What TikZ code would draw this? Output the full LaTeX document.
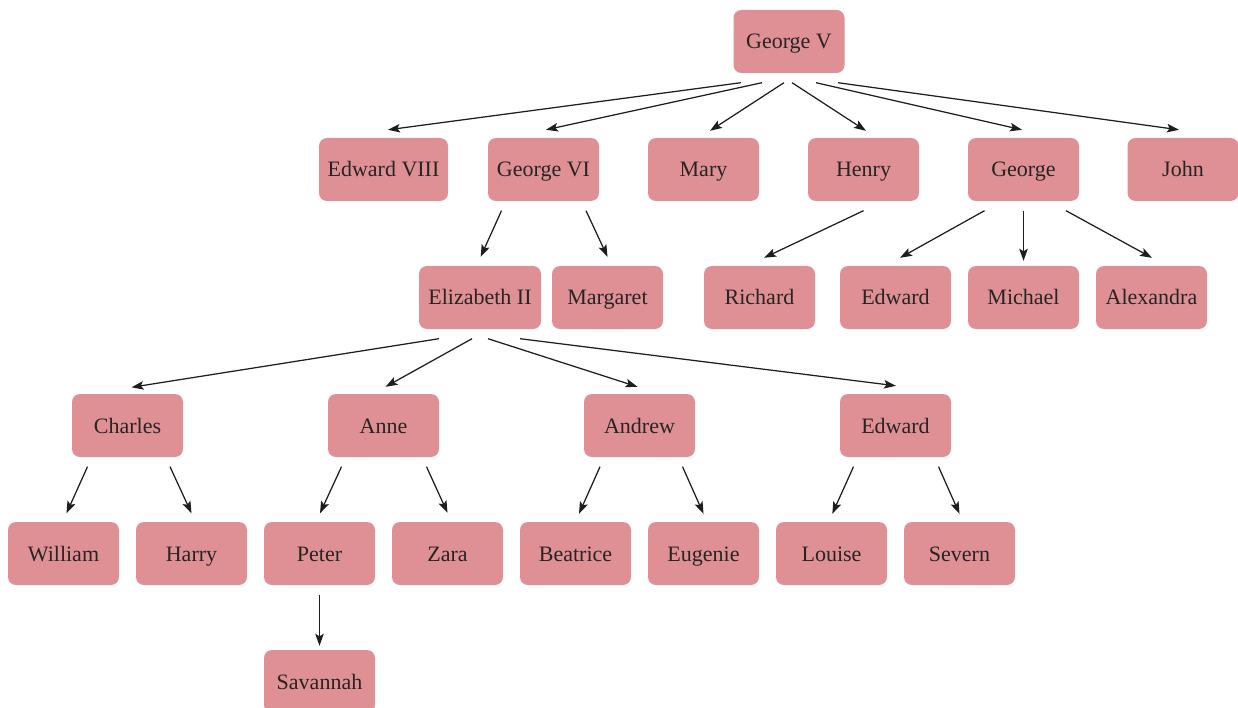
\documentclass[tikz,border=0pt]{standalone}
\usepackage{fontspec}
\setmainfont{Liberation Serif}
\usetikzlibrary{arrows.meta,calc}
\definecolor{boxfill}{RGB}{222,144,149}
\definecolor{txtcol}{RGB}{40,36,36}
\definecolor{edgecol}{RGB}{30,30,30}
\newcommand\famedge[5]{\draw[link] ($(#1.south)+(#2,9.5)$) -- ($(#3.north)+(#4,#5)$);}
\begin{document}
\begin{tikzpicture}[x=1pt,y=-1pt,
  person/.style={rectangle, rounded corners=8pt, fill=boxfill, text=txtcol,
    minimum width=111pt, minimum height=63pt, inner xsep=4pt, inner ysep=0pt,
    text height=18pt, text depth=3pt, font=\fontsize{22}{26}\selectfont},
  link/.style={draw=edgecol, line width=1.25pt, -{Stealth[length=12pt,width=8.5pt,inset=2.5pt]}}]
\useasboundingbox (0,0) rectangle (1238,708);
% row 0
\node[person] (gv) at (789,41.5) {George V};
% row 1
\node[person, minimum width=129pt] (e8) at (383.5,169.5) {Edward VIII};
\node[person] (g6) at (543.5,169.5) {George VI};
\node[person] (mary) at (703.5,169.5) {Mary};
\node[person] (henry) at (863.5,169.5) {Henry};
\node[person] (george) at (1023.5,169.5) {George};
\node[person] (john) at (1183,169.5) {John};
% row 2
\node[person, minimum width=122pt] (eliz) at (480,297.5) {Elizabeth II};
\node[person] (marg) at (607.5,297.5) {Margaret};
\node[person] (rich) at (759.5,297.5) {Richard};
\node[person] (edwa) at (895.5,297.5) {Edward};
\node[person] (mich) at (1023.5,297.5) {Michael};
\node[person] (alex) at (1151.5,297.5) {Alexandra};
% row 3
\node[person] (charles) at (127.5,425.5) {Charles};
\node[person] (anne) at (383.5,425.5) {Anne};
\node[person] (andrew) at (639.5,425.5) {Andrew};
\node[person] (edwb) at (895.5,425.5) {Edward};
% row 4
\node[person] (will) at (63.5,553.5) {William};
\node[person] (harry) at (191.5,553.5) {Harry};
\node[person] (peter) at (319.5,553.5) {Peter};
\node[person] (zara) at (447.5,553.5) {Zara};
\node[person] (beat) at (575.5,553.5) {Beatrice};
\node[person] (eug) at (703.5,553.5) {Eugenie};
\node[person] (louise) at (831.5,553.5) {Louise};
\node[person] (severn) at (959.5,553.5) {Severn};
% row 5
\node[person] (sav) at (319.5,681.5) {Savannah};
% edges
\famedge{gv}{-48}{e8}{4.5}{-8}
\famedge{gv}{-27}{g6}{2.5}{-8}
\famedge{gv}{-5}{mary}{6.5}{-7}
\famedge{gv}{3}{henry}{2.5}{-7}
\famedge{gv}{27}{george}{-1.5}{-8}
\famedge{gv}{49}{john}{-4}{-8}
\famedge{g6}{-42}{eliz}{0.7}{-9}
\famedge{g6}{42.5}{marg}{0}{-9}
\famedge{henry}{0}{rich}{4.5}{-8}
\famedge{george}{-39}{edwa}{4.5}{-8}
\famedge{george}{0}{mich}{0}{-5}
\famedge{george}{42.5}{alex}{0.5}{-8}
\famedge{eliz}{-41}{charles}{4}{-6.5}
\famedge{eliz}{-8}{anne}{2}{-7}
\famedge{eliz}{8}{andrew}{-2}{-7}
\famedge{eliz}{40}{edwb}{0.5}{-8}
\famedge{charles}{-40}{will}{3}{-8.5}
\famedge{charles}{42.5}{harry}{0}{-8.5}
\famedge{anne}{-42}{peter}{0.5}{-8.5}
\famedge{anne}{43}{zara}{0}{-9}
\famedge{andrew}{-39.5}{beat}{3.5}{-8}
\famedge{andrew}{43}{eug}{0}{-8}
\famedge{edwb}{-42}{louise}{0.8}{-8}
\famedge{edwb}{43}{severn}{0}{-8}
\famedge{peter}{0}{sav}{0}{-4}
\end{tikzpicture}
\end{document}
